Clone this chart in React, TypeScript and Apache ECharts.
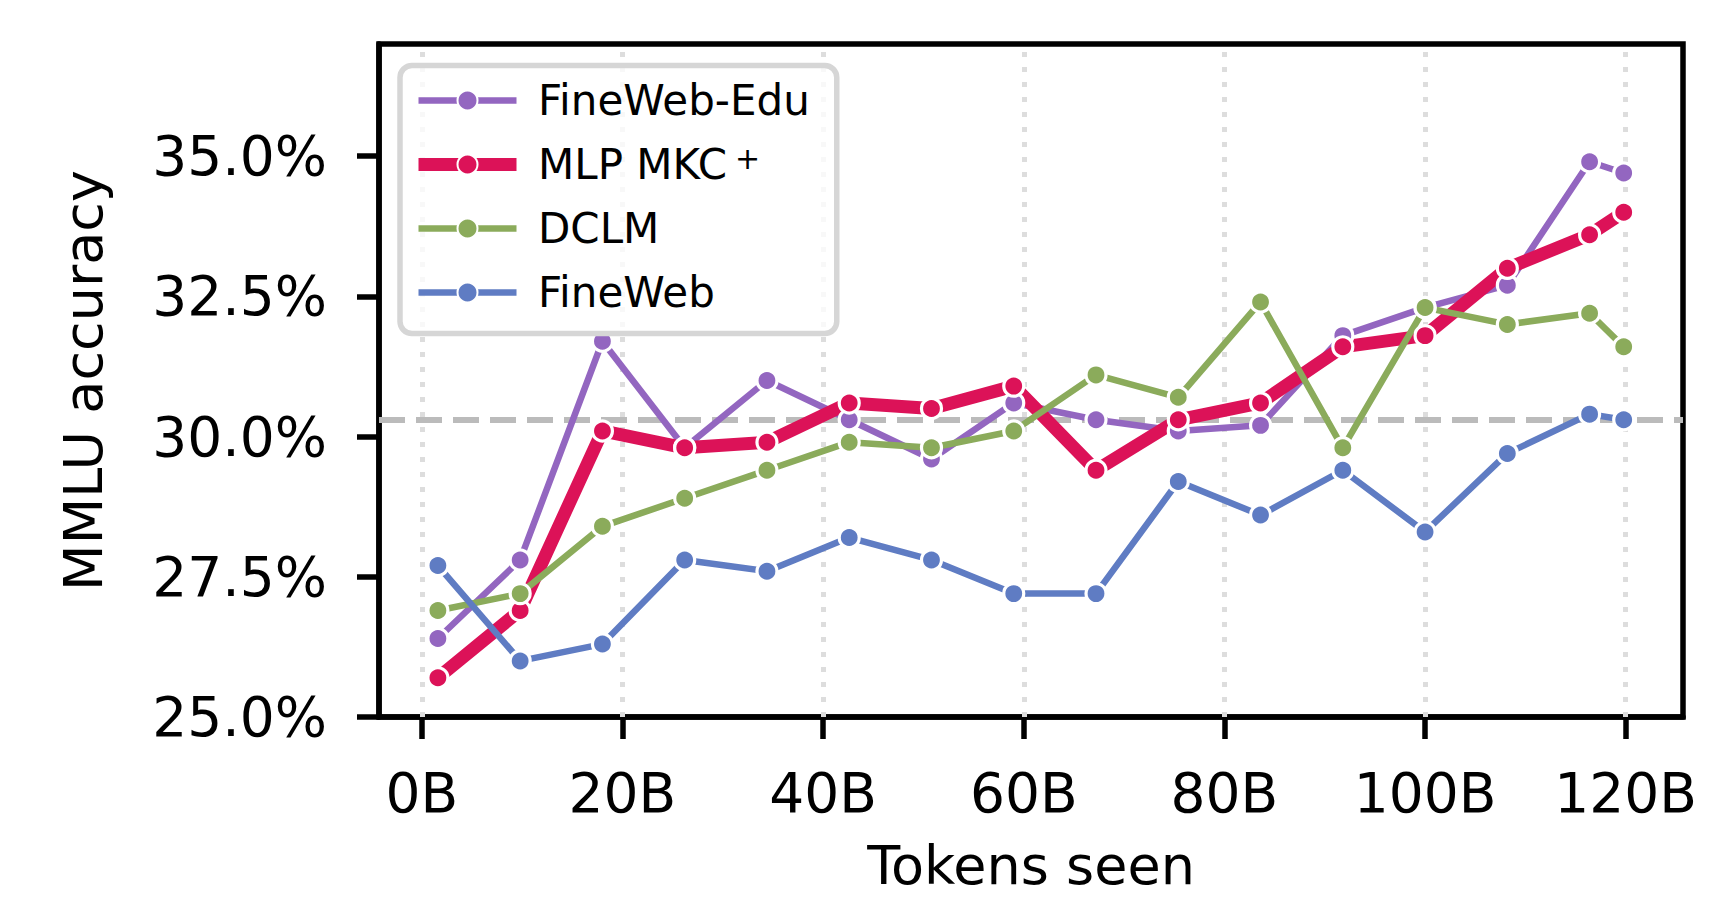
import React, { useEffect, useRef } from 'react';
import * as echarts from 'echarts';

// Tokens seen (billions) at each evaluation checkpoint
const tokensSeen = [1.6, 9.8, 18.0, 26.2, 34.4, 42.6, 50.8, 59.0, 67.2, 75.4, 83.6, 91.8, 100.0, 108.2, 116.4, 119.8];

// MMLU accuracy (%) per dataset
const fineWebEdu = [26.4, 27.8, 31.7, 29.8, 31.0, 30.3, 29.6, 30.6, 30.3, 30.1, 30.2, 31.8, 32.3, 32.7, 34.9, 34.7];
const mlpMkcPlus = [25.7, 26.9, 30.1, 29.8, 29.9, 30.6, 30.5, 30.9, 29.4, 30.3, 30.6, 31.6, 31.8, 33.0, 33.6, 34.0];
const dclm = [26.9, 27.2, 28.4, 28.9, 29.4, 29.9, 29.8, 30.1, 31.1, 30.7, 32.4, 29.8, 32.3, 32.0, 32.2, 31.6];
const fineWeb = [27.7, 26.0, 26.3, 27.8, 27.6, 28.2, 27.8, 27.2, 27.2, 29.2, 28.6, 29.4, 28.3, 29.7, 30.4, 30.3];

const seriesNames = ['FineWeb-Edu', 'MLP MKC+', 'DCLM', 'FineWeb'];
const xTicks = [0, 20, 40, 60, 80, 100, 120];
const yTicks = [25, 27.5, 30, 32.5, 35];
const referenceLevel = 30.3;

const FONT = '"DejaVu Sans", "Noto Sans", sans-serif';

function lineSeries(name: string, values: number[], color: string, width: number) {
  return {
    type: 'line',
    name,
    data: tokensSeen.map((x, i) => [x, values[i]]),
    symbol: 'circle',
    symbolSize: 20,
    showSymbol: true,
    lineStyle: { color, width },
    itemStyle: { color, borderColor: '#ffffff', borderWidth: 3.2 },
    emphasis: { disabled: true },
    z: 3,
  };
}

export default function App() {
  const ref = useRef<HTMLDivElement>(null);

  useEffect(() => {
    const chart = echarts.init(ref.current!, null, { renderer: 'svg' });
    const option: any = {
      animation: false,
      backgroundColor: '#ffffff',
      grid: {
        left: 379,
        top: 44,
        right: 41,
        bottom: 180,
        containLabel: false,
        outerBoundsMode: 'none',
        show: true,
        borderColor: '#000',
        borderWidth: 5.5,
        backgroundColor: 'transparent',
      },
      legend: {
        orient: 'vertical',
        left: 400,
        top: 65.5,
        data: seriesNames,
        itemWidth: 98,
        itemHeight: 25,
        itemGap: 22,
        padding: [14, 27, 20, 12],
        backgroundColor: 'rgba(255,255,255,0.8)',
        borderColor: '#d6d6d6',
        borderWidth: 5.5,
        borderRadius: 12,
        selectedMode: false,
        lineStyle: { width: 'inherit' },
        formatter: (name: string) => (name === 'MLP MKC+' ? 'MLP MKC{sup|+}' : name),
        textStyle: {
          fontFamily: FONT,
          fontSize: 42,
          lineHeight: 42,
          color: '#000',
          padding: [0, 0, 0, 16.5],
          rich: {
            sup: {
              fontFamily: FONT,
              fontSize: 30,
              lineHeight: 22,
              verticalAlign: 'top',
              color: '#000',
              padding: [0, 0, 0, 8],
            },
          },
        },
      },
      xAxis: {
        type: 'value',
        min: -4.27,
        max: 125.71,
        axisLine: { show: true, onZero: false, lineStyle: { color: '#000', width: 5.5 } },
        axisTick: {
          show: true,
          customValues: xTicks,
          length: 22,
          lineStyle: { color: '#000', width: 5.5 },
        },
        axisLabel: {
          customValues: xTicks,
          formatter: (v: number) => `${v}B`,
          fontFamily: FONT,
          fontSize: 55,
          color: '#000',
          margin: 48,
        },
        splitLine: { show: false },
        name: 'Tokens seen',
        nameLocation: 'middle',
        nameGap: 130,
        nameTextStyle: { fontFamily: FONT, fontSize: 54, lineHeight: 36, color: '#000' },
      },
      yAxis: {
        type: 'value',
        min: 25,
        max: 37,
        axisLine: { show: true, onZero: false, lineStyle: { color: '#000', width: 5.5 } },
        axisTick: {
          show: true,
          customValues: yTicks,
          length: 22,
          lineStyle: { color: '#000', width: 5.5 },
        },
        axisLabel: {
          customValues: yTicks,
          formatter: (v: number) => `${v.toFixed(1)}%`,
          fontFamily: FONT,
          fontSize: 55,
          color: '#000',
          margin: 52,
        },
        splitLine: { show: false },
        name: 'MMLU accuracy',
        nameLocation: 'middle',
        nameGap: 269,
        nameTextStyle: { fontFamily: FONT, fontSize: 54, color: '#000' },
      },
      series: [
        {
          type: 'line',
          name: '_refs',
          data: [],
          silent: true,
          markLine: {
            silent: true,
            z: 1,
            symbol: 'none',
            label: { show: false },
            emphasis: { disabled: true },
            lineStyle: { color: '#dddddd', width: 5, type: [5, 10] },
            data: [
              ...xTicks.map((v) => ({ xAxis: v })),
              { yAxis: referenceLevel, lineStyle: { color: '#bbbbbb', width: 6, type: [26, 11] } },
            ],
          },
        },
        lineSeries(seriesNames[0], fineWebEdu, '#9366c0', 6.5),
        lineSeries(seriesNames[1], mlpMkcPlus, '#dc1258', 13),
        lineSeries(seriesNames[2], dclm, '#8bab5b', 6.5),
        lineSeries(seriesNames[3], fineWeb, '#5f7cc3', 6.5),
      ],
    };
    chart.setOption(option);
    return () => chart.dispose();
  }, []);

  return (
    <div
      ref={ref}
      style={{ position: 'fixed', left: 0, top: 0, width: 1724, height: 897, background: '#fff' }}
    />
  );
}
